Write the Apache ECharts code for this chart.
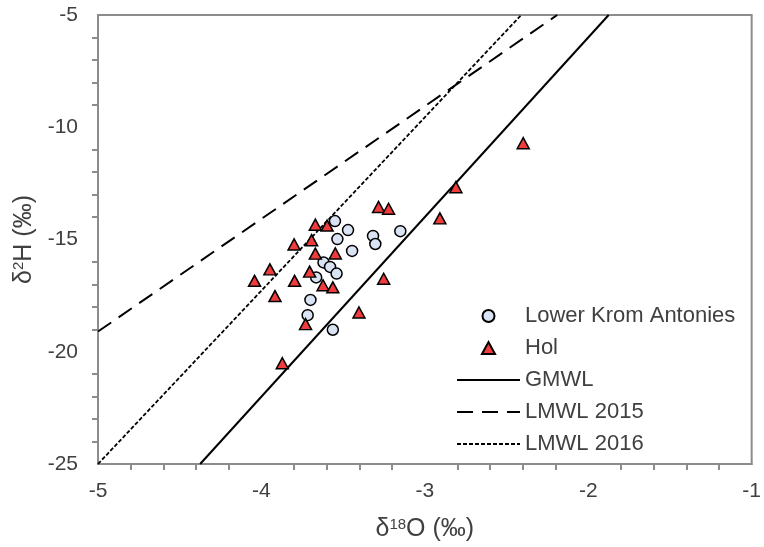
<!DOCTYPE html>
<html>
<head>
<meta charset="utf-8">
<script src="https://cdn.jsdelivr.net/npm/echarts@6/dist/echarts.min.js"></script>
<style>
html, body {margin: 0; padding: 0; background: #fff;}
#main {width: 764px; height: 547px;}
</style>
</head>
<body>
<div id="main"></div>
<script>
// 样品点 (d18O, d2H)
var aKromX = [-3.55, -3.47, -3.535, -3.317, -3.303, -3.15, -3.445, -3.62, -3.58, -3.54, -3.665, -3.70, -3.717, -3.563];
var aKromY = [-14.18, -14.58, -14.98, -14.84, -15.2, -14.63, -15.51, -16.02, -16.22, -16.52, -16.69, -17.69, -18.37, -19.02];

var aHolX = [-2.398, -2.81, -2.908, -3.283, -3.222, -3.67, -3.598, -3.80, -3.693, -3.67, -3.548, -3.948, -3.705, -4.042, -3.797, -3.623, -3.563, -3.252, -3.917, -3.403, -3.73, -3.872];
var aHolY = [-10.71, -12.67, -14.06, -13.55, -13.63, -14.34, -14.38, -15.22, -15.03, -15.63, -15.62, -16.33, -16.43, -16.84, -16.84, -17.04, -17.13, -16.75, -17.52, -18.25, -18.77, -20.51];

// 水线端点
var aGmwlX = [-4.375, -1.875];
var aGmwlY = [-25, -5];
var aLmwl15X = [-5, -2.19];
var aLmwl15Y = [-19.1, -5];
var aLmwl16X = [-5, -2.41];
var aLmwl16Y = [-25, -5];

var aLegend = ['Lower Krom Antonies', 'Hol', 'GMWL', 'LMWL 2015', 'LMWL 2016'];

function Zip(aX, aY) {
    var aOut = [];
    for (var i = 0; i < aX.length; i++) {
        aOut.push([aX[i], aY[i]]);
    }
    return aOut
}

var sFont = 'Liberation Sans';
var sGray = '#8c8c8c';
var sText = '#404040';

function LineSeries(sName, aX, aY, sType, iWidth) {
    return {
        name: sName,
        type: 'line',
        symbol: 'none',
        z: 2,
        itemStyle: {color: 'rgba(0,0,0,0)', borderWidth: 0},   // 图例里不要圆点
        lineStyle: {color: '#000', width: iWidth, type: sType},
        data: Zip(aX, aY)
    }
}

// 图例项，三角形用path保持比例
var aLegendData = [];
for (var i = 0; i < aLegend.length; i++) {
    if (aLegend[i] == 'Hol') {
        aLegendData.push({name: aLegend[i], icon: 'path://M0,11L6,0L12,11Z'});
    } else {
        aLegendData.push({name: aLegend[i]});
    }
}

var jRich = {
    a: {fontFamily: sFont, fontSize: 25, color: sText},
    s: {fontFamily: sFont, fontSize: 15, color: sText, verticalAlign: 'top'}
};

var jOption = {
    animation: false,
    grid: {left: 98, right: 9, top: 15, bottom: 80, show: true, borderColor: sGray, borderWidth: 2},
    legend: {
        data: aLegendData,
        orient: 'vertical',
        left: 456,
        top: 305,
        padding: 0,
        itemGap: 10,
        itemWidth: 63,
        itemHeight: 12,
        symbolKeepAspect: true,
        textStyle: {fontFamily: sFont, fontSize: 22, color: sText}
    },
    xAxis: {
        type: 'value',
        min: -5, max: -1, interval: 1,
        axisLine: {show: true, lineStyle: {color: sGray, width: 2}},
        axisTick: {show: false},
        minorTick: {show: true, splitNumber: 5, length: 6, lineStyle: {color: sGray, width: 2}},
        splitLine: {show: false},
        axisLabel: {fontFamily: sFont, fontSize: 21, color: sText, margin: 17},
        name: '{a|δ}{s|18}{a|O (‰)}',
        nameLocation: 'middle',
        nameGap: 53,
        nameTextStyle: {rich: jRich}
    },
    yAxis: {
        type: 'value',
        min: -25, max: -5, interval: 5,
        axisLine: {show: true, lineStyle: {color: sGray, width: 2}},
        axisTick: {show: false},
        minorTick: {show: true, splitNumber: 5, length: 6, lineStyle: {color: sGray, width: 2}},
        splitLine: {show: false},
        axisLabel: {fontFamily: sFont, fontSize: 21, color: sText, margin: 20},
        name: '{a|δ}{s|2}{a|H (‰)}',
        nameLocation: 'middle',
        nameGap: 60,
        nameTextStyle: {rich: jRich}
    },
    series: [
        LineSeries('GMWL', aGmwlX, aGmwlY, 'solid', 2),
        LineSeries('LMWL 2015', aLmwl15X, aLmwl15Y, [16, 9], 2),
        LineSeries('LMWL 2016', aLmwl16X, aLmwl16Y, [4, 2], 1.8),
        {
            name: 'Lower Krom Antonies',
            type: 'scatter',
            symbol: 'circle',
            symbolSize: 11,
            z: 3,
            itemStyle: {color: '#DAE3F3', borderColor: '#000', borderWidth: 1.5, opacity: 1},
            data: Zip(aKromX, aKromY)
        },
        {
            name: 'Hol',
            type: 'scatter',
            symbol: 'triangle',
            symbolSize: [12, 11],
            z: 4,
            itemStyle: {color: '#F03C3C', borderColor: '#000', borderWidth: 1.5, opacity: 1},
            data: Zip(aHolX, aHolY)
        }
    ]
};

var myChart = echarts.init(document.getElementById('main'));
myChart.setOption(jOption);
</script>
</body>
</html>
